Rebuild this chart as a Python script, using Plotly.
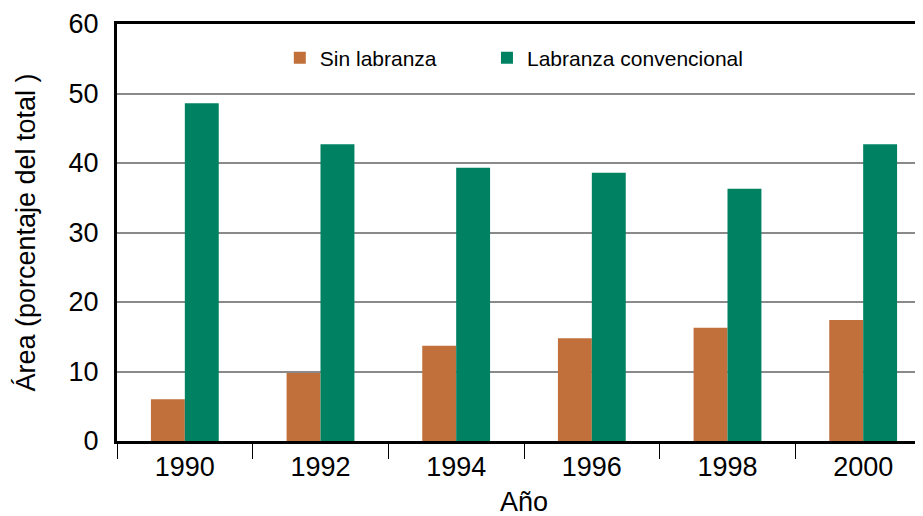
import plotly.graph_objects as go

years = ["1990", "1992", "1994", "1996", "1998", "2000"]
sin_labranza = [6.0, 9.8, 13.7, 14.8, 16.3, 17.4]
convencional = [48.6, 42.7, 39.3, 38.6, 36.3, 42.7]
y_ticks = [0, 10, 20, 30, 40, 50, 60]

FONT = "Liberation Sans, Arial, Helvetica, sans-serif"

fig = go.Figure()
fig.add_trace(go.Bar(x=years, y=sin_labranza, name="Sin labranza", legend="legend",
                     marker=dict(color="#C1703C", line=dict(width=0))))
fig.add_trace(go.Bar(x=years, y=convencional, name="Labranza convencional", legend="legend2",
                     marker=dict(color="#008262", line=dict(width=0))))

leg_common = dict(orientation="h", xanchor="left", y=0.918, yanchor="middle",
                  font=dict(size=21, family=FONT), bgcolor="rgba(0,0,0,0)")

fig.update_layout(
    width=923, height=516,
    margin=dict(l=109, r=0, t=16, b=83),
    barmode="group", bargap=0.5, bargroupgap=0,
    plot_bgcolor="white", paper_bgcolor="white",
    font=dict(family=FONT, color="black", size=27),
    legend=dict(x=0.200, **leg_common),
    legend2=dict(x=0.4545, **leg_common),
    showlegend=True,
)
fig.update_xaxes(
    type="category", range=[-0.5, 5.5],
    showline=True, linecolor="black", linewidth=3, mirror=True,
    ticks="outside", tickson="boundaries", ticklen=15, tickwidth=1, tickcolor="black",
    tickfont=dict(size=27),
    title=dict(text="Año", font=dict(size=27), standoff=11),
    showgrid=False, automargin=False,
)
fig.update_yaxes(
    range=[0, 60], tickvals=y_ticks,
    showline=True, linecolor="black", linewidth=3,
    showgrid=True, gridcolor="#8a8a8a", gridwidth=1.5,
    ticks="", tickfont=dict(size=27), ticklabelstandoff=10,
    title=dict(text="Área (porcentaje del total )", font=dict(size=27), standoff=26),
    zeroline=False, automargin=False,
)

fig.write_html("out.html")
